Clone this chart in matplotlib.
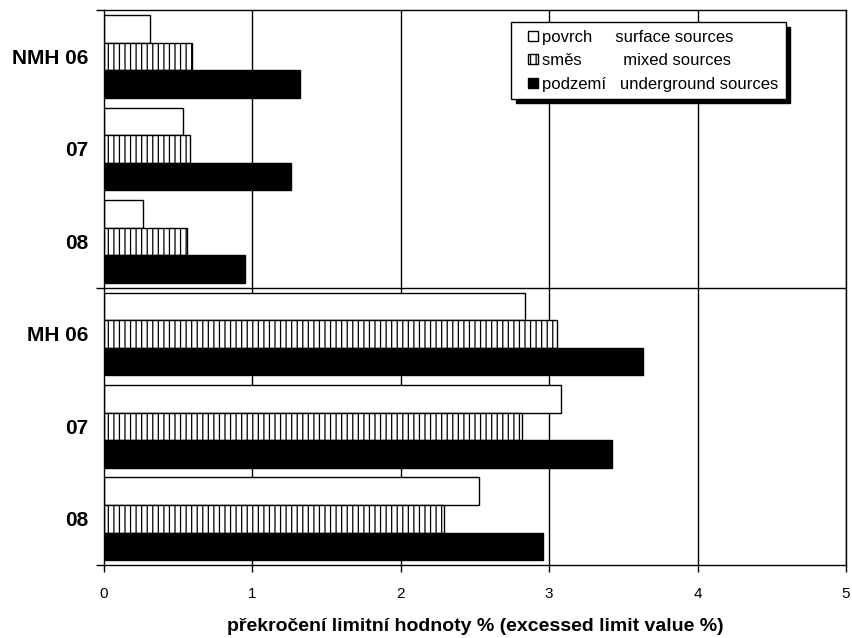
import matplotlib
matplotlib.use('Agg')
import matplotlib.pyplot as plt
from matplotlib.patches import Rectangle
from matplotlib.legend_handler import HandlerPatch
import numpy as np

plt.rcParams['font.family'] = ['Liberation Sans', 'DejaVu Sans']
plt.rcParams['hatch.linewidth'] = 0.9

# categories (top to bottom) and values
categories = ['NMH 06', '07', '08', 'MH 06', '07', '08']
surface = [0.31, 0.53, 0.26, 2.84, 3.08, 2.53]
mixed = [0.59, 0.58, 0.56, 3.05, 2.82, 2.29]
underground = [1.32, 1.26, 0.95, 3.63, 3.42, 2.96]

labels = ['povrch     surface sources',
          'směs         mixed sources',
          'podzemí   underground sources']

fig = plt.figure(figsize=(8.52, 6.38), dpi=100)
ax = fig.add_axes([0.122, 0.1144, 0.871, 0.8696])

y = np.arange(len(categories))
h = 0.298

# gridlines
for xv in range(1, 6):
    ax.axvline(xv, color='black', lw=1, zorder=1)
ax.axhline(2.5, color='black', lw=1, zorder=1)

b1 = ax.barh(y - h, surface, height=h, color='white', edgecolor='black', lw=1,
             zorder=2)
b2 = ax.barh(y, mixed, height=h, color='white', edgecolor='black', lw=1,
             hatch='|||', zorder=2)
b3 = ax.barh(y + h, underground, height=h, color='black', edgecolor='black', lw=1,
             zorder=2)

ax.set_xlim(0, 5)
ax.set_ylim(5.5, -0.5)

ax.set_xticks(range(6))
ax.tick_params(axis='x', direction='out', length=5, width=1, labelsize=11,
               pad=11)

ax.set_yticks(y)
ax.set_yticklabels(categories, fontsize=15, fontweight='bold')
ax.tick_params(axis='y', which='major', length=0, pad=11.5)
ax.set_yticks([-0.5, 2.5, 5.5], minor=True)
ax.tick_params(axis='y', which='minor', direction='out', length=6, width=1)

for s in ax.spines.values():
    s.set_linewidth(1)

ax.set_xlabel('překročení limitní hodnoty % (excessed limit value %)',
              fontsize=14, fontweight='bold', labelpad=12)


# small square legend keys drawn at the right end of the handle box
def square_key(legend, orig_handle, xdescent, ydescent, width, height, fontsize):
    s = 7.2
    return Rectangle((-xdescent + width - s, -ydescent + (height - s) / 2), s, s)


handles = [b1.patches[0], b2.patches[0], b3.patches[0]]
leg = ax.legend(handles, labels, loc='upper right', bbox_to_anchor=(0.919, 0.978),
                fontsize=12, fancybox=False, framealpha=1,
                edgecolor='black', handlelength=1.15, handleheight=0.7,
                handletextpad=0.25, labelspacing=0.5, borderpad=0.45,
                borderaxespad=0,
                handler_map={p: HandlerPatch(patch_func=square_key) for p in handles},
                shadow={'color': 'black', 'alpha': 1, 'ox': 3, 'oy': -3})
leg.get_frame().set_linewidth(1)

fig.savefig('out.png', dpi=100)
